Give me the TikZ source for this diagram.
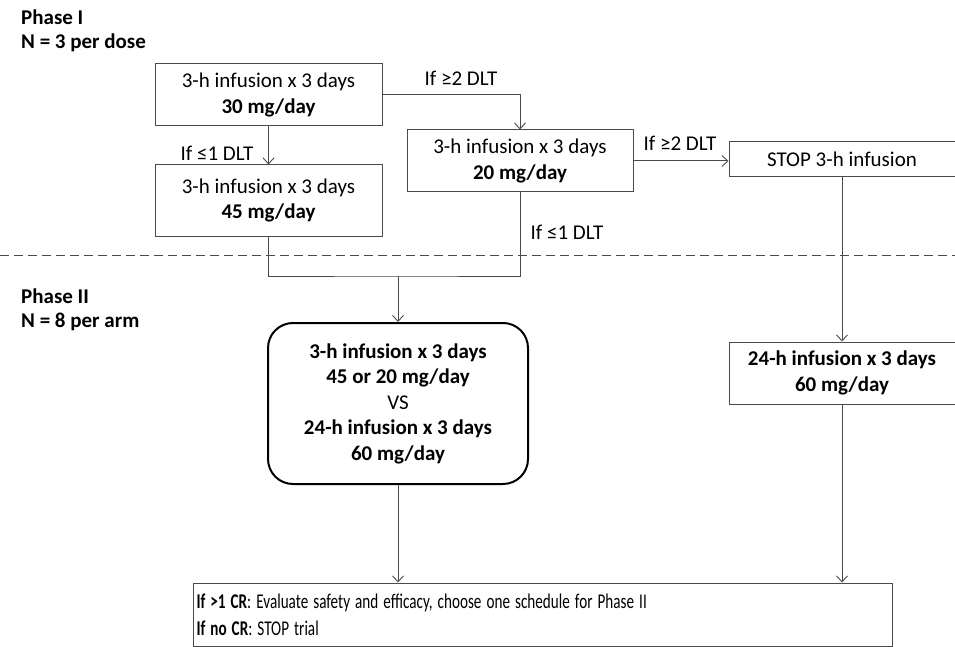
\documentclass[tikz,border=0pt]{standalone}
\usepackage{fontspec}
\usepackage{graphicx}
\setmainfont{Carlito}
\usetikzlibrary{arrows.meta}
\definecolor{linecol}{HTML}{4A4A4A}
\newcommand{\mainsz}{\fontsize{21}{25.5}\selectfont}
\newcommand{\bottomsz}{\fontsize{21}{27}\selectfont}
\newcommand{\narrow}[1]{\scalebox{0.722}[1]{#1}}
\begin{document}
\begin{tikzpicture}[x=1pt,y=-1pt,
  box/.style={draw=linecol, line width=1pt, inner sep=0pt, align=center, font=\mainsz, text=black},
  conn/.style={draw=linecol, line width=1pt},
  arr/.style={conn, -{Straight Barb[length=6pt,width=11pt,line width=0.9pt]}},
  lbl/.style={font=\mainsz, inner sep=0pt, text=black},
  phase/.style={font=\mainsz\bfseries, inner sep=0pt, anchor=west, text=black}]
\useasboundingbox (0,0) rectangle (955,647);
\fill[white] (0,0) rectangle (955,647);

% Phase labels
\node[phase] (p1) at (21,17) {Phase I};
\node[phase] (n1) at (21,43) {N = 3 per dose};
\node[phase] (p2) at (21,296) {Phase II};
\node[phase] (n2) at (21,322) {N = 8 per arm};

% dashed separator
\draw[linecol, line width=1pt, dash pattern=on 9pt off 5pt] (0,255) -- (955,255);

% boxes
\node[box, minimum width=227, minimum height=62] (a) at (268.5,95) {3-h infusion x 3 days\\\textbf{30 mg/day}};
\node[box, minimum width=227, minimum height=71] (b) at (268.5,200.5) {3-h infusion x 3 days\\\textbf{45 mg/day}};
\node[box, minimum width=226, minimum height=62] (c) at (520,161) {3-h infusion x 3 days\\\textbf{20 mg/day}};
\node[box, minimum width=226, minimum height=35] (stop) at (842,159.5) {STOP 3-h infusion};
\node[box, minimum width=226, minimum height=62] (e) at (842,373) {\textbf{24-h infusion x 3 days}\\\textbf{60 mg/day}};
\node[box, draw=black, line width=2pt, rounded corners=25pt, minimum width=260, minimum height=161] (d) at (398,403.5)
  {\textbf{3-h infusion x 3 days}\\\textbf{45 or 20 mg/day}\\VS\\\textbf{24-h infusion x 3 days}\\\textbf{60 mg/day}};
\node[box, minimum width=699, minimum height=63, text width=692, align=left, font=\bottomsz] (f) at (542.5,614.5)
  {\narrow{\textbf{If >1 CR}: Evaluate safety and efficacy, choose one schedule for Phase II}\\\narrow{\textbf{If no CR}: STOP trial}};

% connectors
\draw[arr] (a.south) -- (b.north);
\node[lbl] (l1) at (217,153) {If ≤1 DLT};
\draw[arr] (a.east) -| (c.north);
\node[lbl] (l2) at (461,78) {If ≥2 DLT};
\draw[arr] (c.east) -- (c.east -| stop.west);
\node[lbl] (l3) at (680,143) {If ≥2 DLT};
\draw[arr] (stop.south) -- (e.north);
\coordinate (m) at (398,276);
\draw[conn] (b.south) |- (m) -| (c.south);
\node[lbl] (l4) at (567,232) {If ≤1 DLT};
\draw[arr] (m) -- (d.north);
\draw[arr] (d.south) -- (d.south |- f.north);
\draw[arr] (e.south) -- (e.south |- f.north);
\end{tikzpicture}
\end{document}
